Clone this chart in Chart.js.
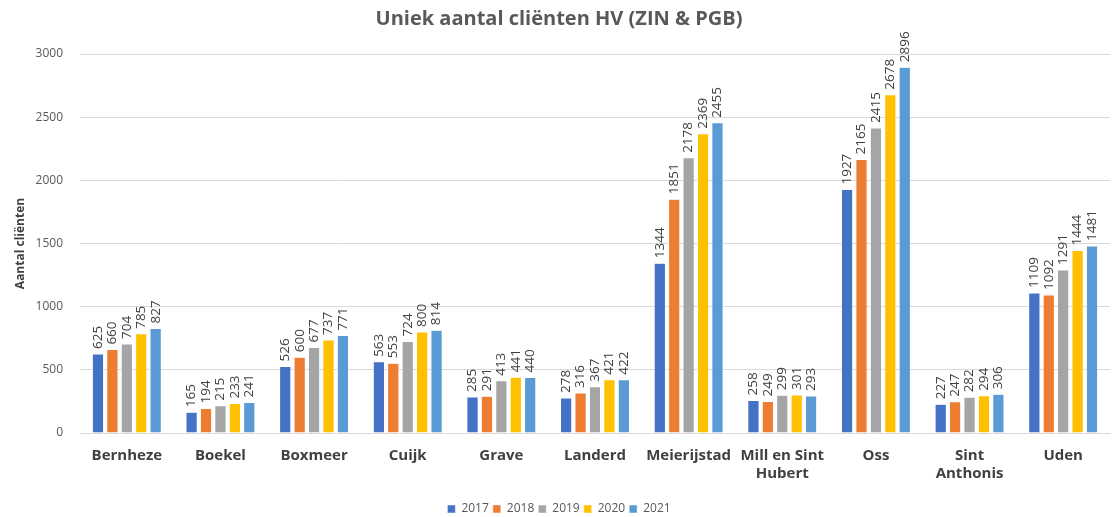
<!DOCTYPE html>
<html>
<head>
<meta charset="utf-8">
<script src="https://cdn.jsdelivr.net/npm/chart.js@4/dist/chart.umd.min.js"></script>
<style>
html,body{margin:0;padding:0;background:#fff;}
#wrap{width:1117px;height:517px;}
</style>
</head>
<body>
<div id="wrap"><canvas id="c" width="1117" height="517"></canvas></div>
<script>
const categories = ["Bernheze","Boekel","Boxmeer","Cuijk","Grave","Landerd","Meierijstad",["Mill en Sint","Hubert"],"Oss",["Sint","Anthonis"],"Uden"];
const years = ["2017","2018","2019","2020","2021"];
const v2017 = [625,165,526,563,285,278,1344,258,1927,227,1109];
const v2018 = [660,194,600,553,291,316,1851,249,2165,247,1092];
const v2019 = [704,215,677,724,413,367,2178,299,2415,282,1291];
const v2020 = [785,233,737,800,441,421,2369,301,2678,294,1444];
const v2021 = [827,241,771,814,440,422,2455,293,2896,306,1481];
const colors = ["#4472C4","#ED7D31","#A5A5A5","#FFC000","#5B9BD5"];
const series = [v2017,v2018,v2019,v2020,v2021];

const FONT = "'Open Sans', 'Liberation Sans', sans-serif";

const labelPlugin = {
  id: 'barLabels',
  afterDatasetsDraw(chart) {
    const ctx = chart.ctx;
    ctx.save();
    ctx.font = "13.5px " + FONT;
    ctx.fillStyle = "#404040";
    ctx.textAlign = "left";
    ctx.textBaseline = "middle";
    chart.data.datasets.forEach((ds, i) => {
      const meta = chart.getDatasetMeta(i);
      meta.data.forEach((bar, j) => {
        ctx.save();
        ctx.translate(bar.x, bar.y - 5);
        ctx.rotate(-Math.PI / 2);
        ctx.fillText(String(ds.data[j]), 0, 0);
        ctx.restore();
      });
    });
    ctx.restore();
  }
};

new Chart(document.getElementById('c'), {
  type: 'bar',
  data: {
    labels: categories,
    datasets: years.map((y, i) => ({
      label: y,
      data: series[i],
      backgroundColor: colors[i],
      borderColor: "#ffffff",
      borderWidth: 0.5,
      categoryPercentage: 0.77,
      barPercentage: 0.78
    }))
  },
  options: {
    responsive: false,
    animation: false,
    devicePixelRatio: 1,
    layout: { padding: { left: 8, right: 7, top: 4, bottom: -8 } },
    plugins: {
      title: {
        display: true,
        text: "Uniek aantal cliënten HV (ZIN & PGB)",
        color: "#595959",
        font: { family: FONT, size: 20, weight: 'bold' },
        padding: { top: 3, bottom: 23 }
      },
      legend: {
        position: 'bottom',
        labels: {
          boxWidth: 8, boxHeight: 8,
          color: "#595959",
          font: { family: FONT, size: 12 },
          padding: 4
        }
      },
      tooltip: { enabled: false }
    },
    scales: {
      x: {
        grid: { display: false },
        border: { color: "#d9d9d9" },
        afterFit: (s) => { s.height += 10; },
        ticks: {
          color: "#404040",
          font: { family: FONT, size: 15, weight: 'bold' },
          maxRotation: 0, autoSkip: false, padding: 6
        }
      },
      y: {
        min: 0, max: 3000,
        afterFit: (s) => { s.width = 72; },
        ticks: { stepSize: 500, color: "#595959", font: { family: FONT, size: 12 }, padding: 17,
                 callback: (v) => String(v) },
        grid: { color: "#d9d9d9", drawTicks: false },
        border: { display: false },
        title: {
          display: true,
          text: "Aantal cliënten",
          color: "#404040",
          font: { family: FONT, size: 12, weight: 'bold' },
          padding: { top: 5, bottom: 0 }
        }
      }
    }
  },
  plugins: [labelPlugin]
});
</script>
</body>
</html>
